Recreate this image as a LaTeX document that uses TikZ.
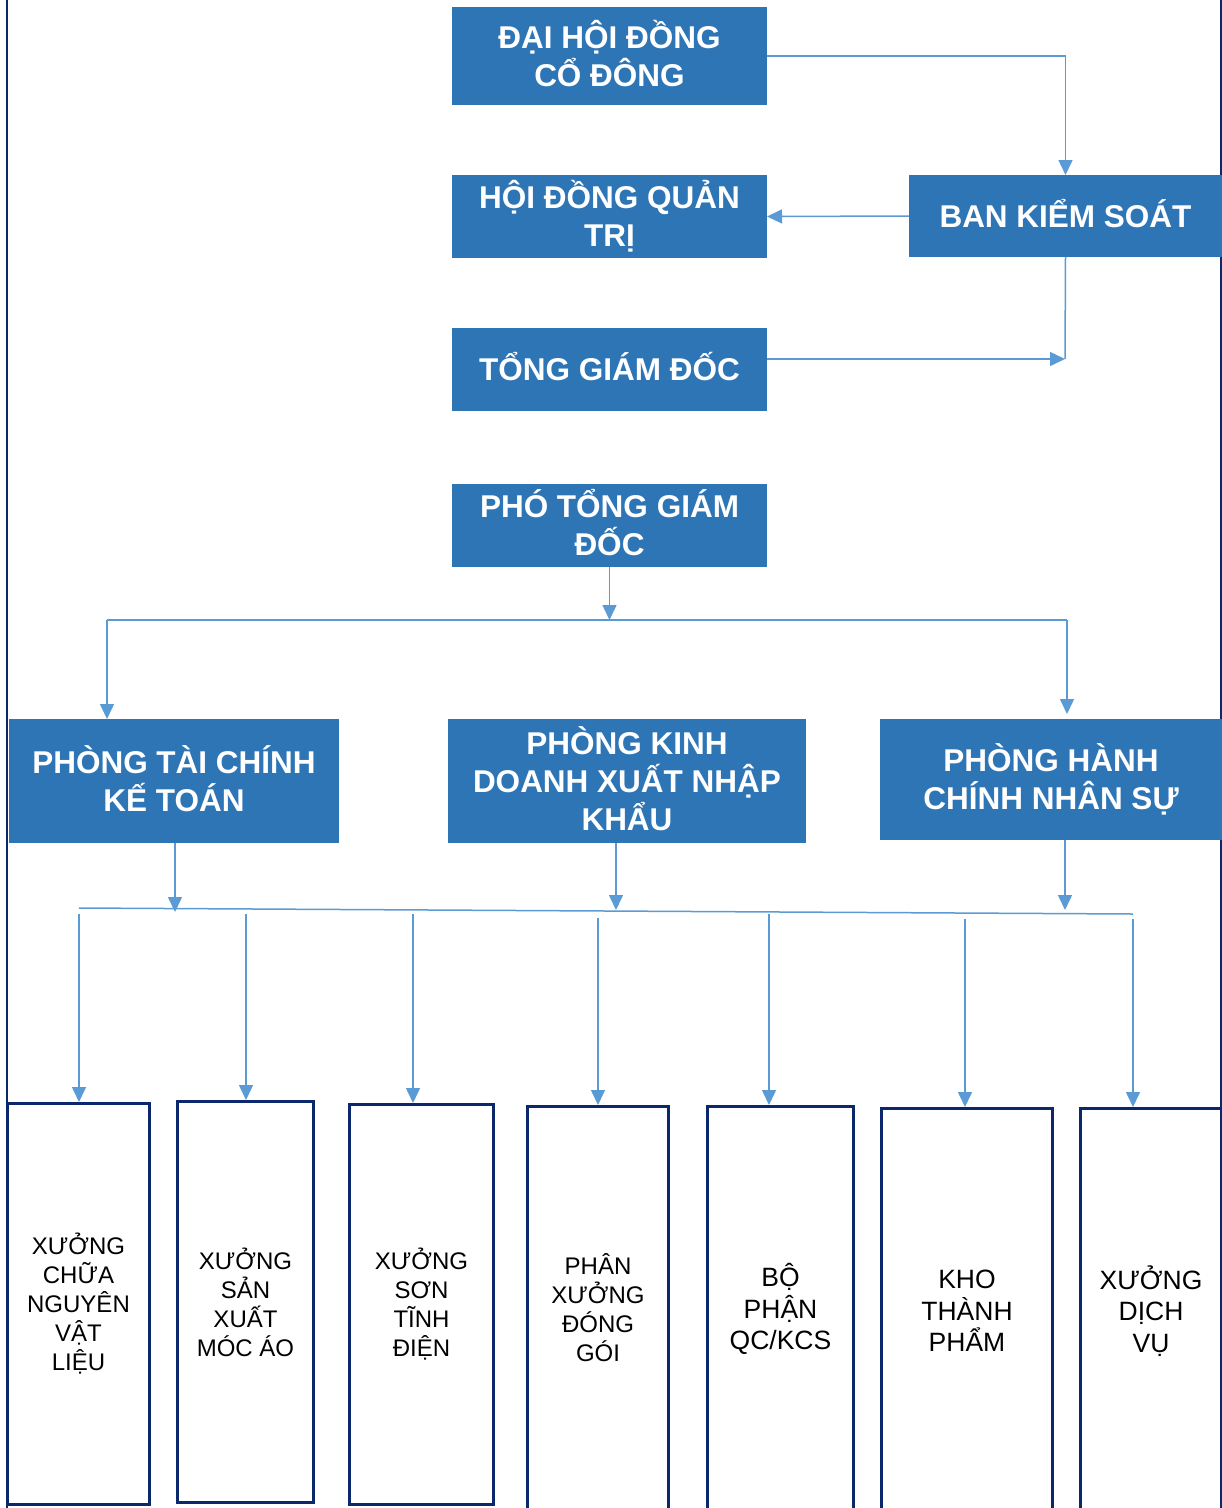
\documentclass[tikz,border=0pt]{standalone}
\usepackage{fontspec}
\setmainfont{Liberation Sans}
\usetikzlibrary{arrows.meta}
\definecolor{boxblue}{RGB}{46,117,182}
\definecolor{linkblue}{RGB}{91,155,213}
\definecolor{navy}{RGB}{12,40,108}
\begin{document}
\begin{tikzpicture}[x=1pt,y=-1pt,
  topbox/.style={fill=boxblue, draw=none, text=white, font=\fontsize{31.5}{38}\selectfont\bfseries, align=center, inner sep=0pt, outer sep=0pt, anchor=north west, text depth=0pt},
  oneline/.style={text height=22.7pt},
  twoline/.style={text height=60.7pt},
  threeline/.style={text height=98.7pt},
  lowbox/.style={fill=white, draw=navy, line width=3pt, text=black, font=\fontsize{24}{29}\selectfont, align=center, inner sep=0pt, anchor=north west},
  lowboxb/.style={lowbox, font=\fontsize{26.5}{31.5}\selectfont},
  conn/.style={draw=linkblue, line width=1.5pt},
  arr/.style={conn, -{Triangle[length=15pt,width=14pt]}},
  frame/.style={draw=navy, line width=2.5pt}]
\useasboundingbox (0,0) rectangle (1222,1508);
% frame lines
\draw[frame] (7,0) -- (7,1508);
\draw[frame] (1221,0) -- (1221,1508);
% top boxes
\node[topbox, twoline, minimum width=315pt, minimum height=98pt] (dh) at (452,7) {ĐẠI HỘI ĐỒNG\\CỔ ĐÔNG};
\node[topbox, twoline, minimum width=315pt, minimum height=83pt] (hd) at (452,175) {HỘI ĐỒNG QUẢN\\TRỊ};
\node[topbox, oneline, minimum width=313pt, minimum height=82pt] (bks) at (909,175) {BAN KIỂM SOÁT};
\node[topbox, oneline, minimum width=315pt, minimum height=83pt] (tgd) at (452,328) {TỔNG GIÁM ĐỐC};
\node[topbox, twoline, minimum width=315pt, minimum height=83pt] (ptgd) at (452,484) {PHÓ TỔNG GIÁM\\ĐỐC};
\node[topbox, twoline, minimum width=330pt, minimum height=124pt] (ptc) at (9,719) {PHÒNG TÀI CHÍNH\\KẾ TOÁN};
\node[topbox, threeline, minimum width=358pt, minimum height=124pt] (pkd) at (448,719) {PHÒNG KINH\\DOANH XUẤT NHẬP\\KHẨU};
\node[topbox, twoline, minimum width=342pt, minimum height=121pt] (phc) at (880,719) {PHÒNG HÀNH\\CHÍNH NHÂN SỰ};
% bottom boxes (positions = outer edge of border)
\node[lowbox, minimum width=142pt, minimum height=401pt] (w1) at (6,1102) {XƯỞNG\\CHỮA\\NGUYÊN\\VẬT\\LIỆU};
\node[lowbox, minimum width=136pt, minimum height=401pt] (w2) at (176,1100) {XƯỞNG\\SẢN\\XUẤT\\MÓC ÁO};
\node[lowbox, minimum width=144pt, minimum height=400pt] (w3) at (348,1103) {XƯỞNG\\SƠN\\TĨNH\\ĐIỆN};
\node[lowbox, minimum width=141pt, minimum height=403pt] (w4) at (526,1105) {PHÂN\\XƯỞNG\\ĐÓNG\\GÓI};
\node[lowboxb, minimum width=146pt, minimum height=405pt] (w5) at (706,1105) {BỘ\\PHẬN\\QC/KCS};
\node[lowboxb, minimum width=171pt, minimum height=405pt] (w6) at (880,1107) {KHO\\THÀNH\\PHẨM};
\node[lowboxb, minimum width=141pt, minimum height=405pt] (w7) at (1079,1107) {XƯỞNG\\DỊCH\\VỤ};
% upper connectors
\draw[arr] (dh.east) -| (bks.north);
\draw[arr] (bks.west) -- (hd.east);
\coordinate (j1) at (1065,359);
\draw[conn] (bks.south) -- (j1);
\draw[arr] (tgd.east |- j1) -- (j1);
\coordinate (b1) at (107,620);
\coordinate (b2) at (1067,620);
\draw[arr] (ptgd.south) -- (ptgd.south |- b1);
\draw[conn] (b1) -- (b2);
\draw[arr] (b1) -- (b1 |- ptc.north);
\draw[arr] (b2) -- ++(0,94);
% lower bus
\coordinate (s1) at (79,908);
\coordinate (s2) at (1133,914);
\draw[conn] (s1) -- (s2);
\coordinate (u1) at (175,912);
\coordinate (u2) at (616,910);
\coordinate (u3) at (1065,910);
\draw[arr] (ptc.south -| u1) -- (u1);
\draw[arr] (pkd.south -| u2) -- (u2);
\draw[arr] (phc.south -| u3) -- (u3);
\coordinate (d1) at (79,914);
\coordinate (d2) at (246,914);
\coordinate (d3) at (413,914);
\coordinate (d4) at (598,918);
\coordinate (d5) at (769,914);
\coordinate (d6) at (965,919);
\coordinate (d7) at (1133,919);
\draw[arr] (d1) -- (d1 |- w1.north);
\draw[arr] (d2) -- (d2 |- w2.north);
\draw[arr] (d3) -- (d3 |- w3.north);
\draw[arr] (d4) -- (d4 |- w4.north);
\draw[arr] (d5) -- (d5 |- w5.north);
\draw[arr] (d6) -- (d6 |- w6.north);
\draw[arr] (d7) -- (d7 |- w7.north);
\end{tikzpicture}
\end{document}
